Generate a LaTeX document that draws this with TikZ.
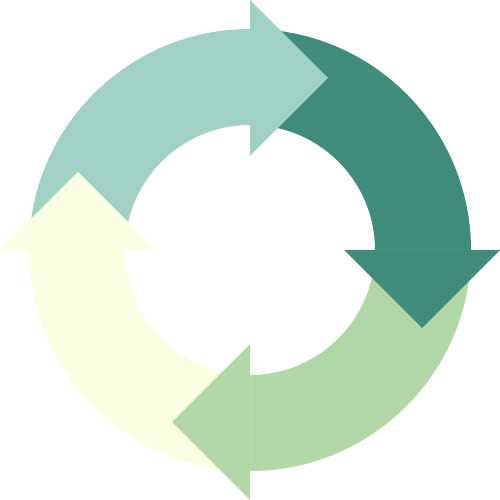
\documentclass[tikz,border=0pt]{standalone}
\definecolor{cTeal}{RGB}{161,208,196}
\definecolor{cDark}{RGB}{62,140,121}
\definecolor{cGreen}{RGB}{178,216,168}
\definecolor{cPale}{RGB}{250,254,226}
\tikzset{
  body/.style={fill=#1},
  headshape/.style={fill=#1}
}
\newcommand{\Ro}{221}
\newcommand{\Ri}{125}
\newcommand{\arrowbody}[2]{%
  \begin{scope}[shift={(250,250)},rotate=#1]
    \fill[body=#2] (180:\Ro) arc[start angle=180,end angle=90,radius=\Ro]
      -- (90:\Ri) arc[start angle=90,end angle=180,radius=\Ri] -- cycle;
  \end{scope}}
\newcommand{\arrowhead}[2]{%
  \begin{scope}[shift={(250,250)},rotate=#1]
    \fill[headshape=#2] (0,94) -- (0,250) -- (78,172) -- cycle;
  \end{scope}}
\begin{document}
\begin{tikzpicture}[x=1pt,y=1pt]
\useasboundingbox (0,0) rectangle (499,500);
\arrowbody{0}{cTeal}
\arrowbody{-90}{cDark}
\arrowbody{-180}{cGreen}
\arrowbody{-270}{cPale}
\arrowhead{0}{cTeal}
\arrowhead{-90}{cDark}
\arrowhead{-180}{cGreen}
\arrowhead{-270}{cPale}
\end{tikzpicture}
\end{document}
